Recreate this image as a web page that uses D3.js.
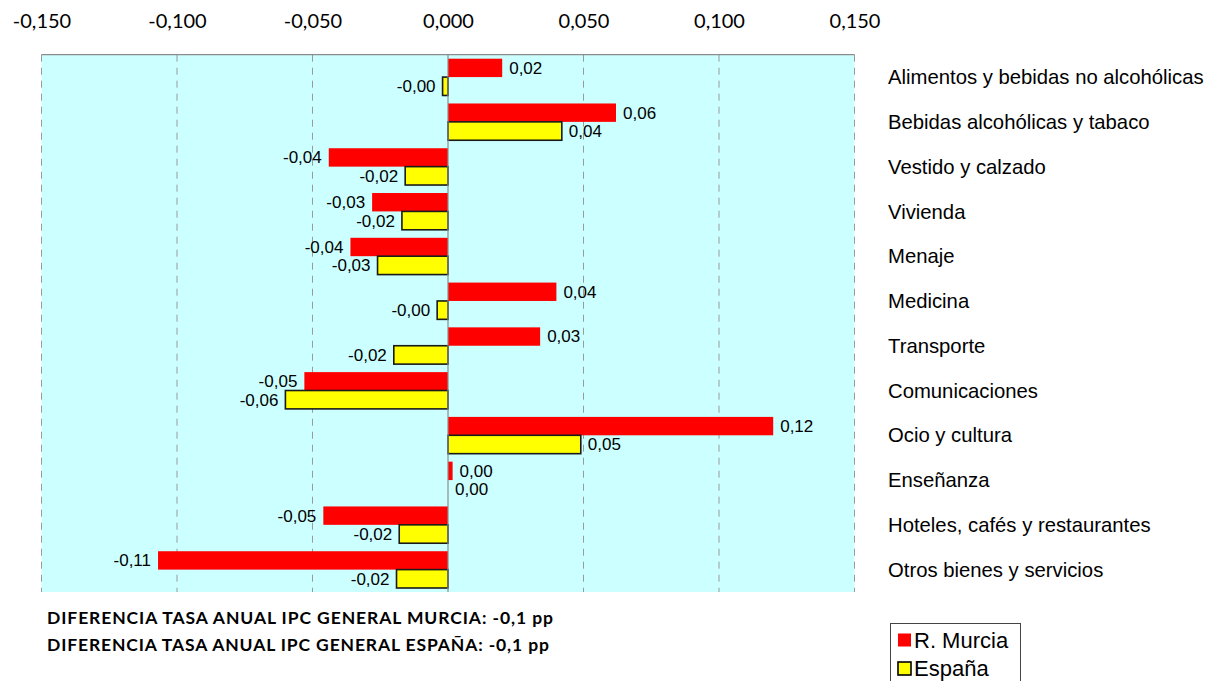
<!DOCTYPE html>
<html>
<head>
<meta charset="utf-8">
<script src="https://cdn.jsdelivr.net/npm/d3@7"></script>
<style>
  html, body { margin: 0; padding: 0; background: #fff; }
  svg { display: block; }
</style>
</head>
<body>
<svg id="chart" width="1215" height="681"></svg>
<script>
const categories = [
  "Alimentos y bebidas no alcohólicas",
  "Bebidas alcohólicas y tabaco",
  "Vestido y calzado",
  "Vivienda",
  "Menaje",
  "Medicina",
  "Transporte",
  "Comunicaciones",
  "Ocio y cultura",
  "Enseñanza",
  "Hoteles, cafés y restaurantes",
  "Otros bienes y servicios"
];
const murcia = [0.020, 0.062, -0.044, -0.028, -0.036, 0.040, 0.034, -0.053, 0.120, 0.0017, -0.046, -0.107];
const espana = [-0.002, 0.042, -0.0158, -0.017, -0.026, -0.004, -0.020, -0.060, 0.049, 0.000, -0.018, -0.019];
const tickValues = [-0.15, -0.10, -0.05, 0, 0.05, 0.10, 0.15];
const seriesNames = ["R. Murcia", "España"];
const notes = [
  "DIFERENCIA TASA ANUAL IPC GENERAL MURCIA: -0,1 pp",
  "DIFERENCIA TASA ANUAL IPC GENERAL ESPAÑA: -0,1 pp"
];

(function () {
const locale = d3.formatLocale({decimal: ",", thousands: ".", grouping: [3], currency: ["", "€"], minus: "-"});
const fmtTick = locale.format(".3f");
const f2 = locale.format(".2f");
const fmtLabel = v => (v < 0 ? "-" : "") + f2(Math.abs(v));

const svg = d3.select("#chart");
const pLeft = 41.5, pRight = 854.5, pTop = 54.7, pBottom = 592;
const x = d3.scaleLinear().domain([-0.15, 0.15]).range([pLeft, pRight]);
const y = d3.scaleBand().domain(categories).range([pTop, pBottom]);
const inner = d3.scaleBand().domain([0, 1]).range([4, y.bandwidth() - 4]);

const colors = ["#FF0000", "#FFFF00"];

svg.append("rect").attr("x", pLeft).attr("y", pTop).attr("width", pRight - pLeft).attr("height", pBottom - pTop).attr("fill", "#CCFFFF");

svg.append("g").selectAll("line").data(tickValues.filter(d => d !== 0)).join("line")
  .attr("x1", d => x(d)).attr("x2", d => x(d)).attr("y1", pTop).attr("y2", pBottom)
  .attr("stroke", "#9a9a9a").attr("stroke-width", 1).attr("stroke-dasharray", "7,6");

svg.append("line").attr("x1", pLeft).attr("x2", pRight).attr("y1", pTop).attr("y2", pTop)
  .attr("stroke", "#8c8c8c").attr("stroke-width", 1.2);

const axis = svg.append("g").attr("transform", `translate(0,${pTop})`)
  .call(d3.axisTop(x).tickValues(tickValues).tickFormat(fmtTick).tickSize(0).tickPadding(27));
axis.select(".domain").remove();
axis.selectAll("text").attr("font-family", "Lato, 'Open Sans', sans-serif").attr("font-size", 20).attr("fill", "#000");

const data = [];
categories.forEach((c, i) => {
  data.push({cat: c, s: 0, v: murcia[i]});
  data.push({cat: c, s: 1, v: espana[i]});
});

svg.append("g").selectAll("rect").data(data).join("rect")
  .attr("x", d => Math.min(x(0), x(d.v)))
  .attr("y", d => y(d.cat) + inner(d.s))
  .attr("width", d => Math.abs(x(d.v) - x(0)))
  .attr("height", inner.bandwidth())
  .attr("fill", d => colors[d.s])
  .attr("stroke", d => d.s === 1 ? "#1a1a1a" : "none")
  .attr("stroke-width", 1.6);

svg.append("line").attr("x1", x(0)).attr("x2", x(0)).attr("y1", pTop).attr("y2", pBottom)
  .attr("stroke", "#8c8c8c").attr("stroke-width", 1.2);

svg.append("g").selectAll("text").data(data).join("text")
  .attr("x", d => d.v >= 0 ? x(d.v) + 7 : x(d.v) - 7)
  .attr("y", d => y(d.cat) + inner(d.s) + inner.bandwidth() / 2)
  .attr("dy", "0.35em")
  .attr("text-anchor", d => d.v >= 0 ? "start" : "end")
  .attr("font-family", "'Liberation Sans', Arial, sans-serif")
  .attr("font-size", 17)
  .attr("fill", "#000")
  .text(d => fmtLabel(d.v));

svg.append("g").selectAll("text").data(categories).join("text")
  .attr("x", 888)
  .attr("y", d => y(d) + y.bandwidth() / 2)
  .attr("dy", "0.35em")
  .attr("font-family", "'Liberation Sans', Arial, sans-serif")
  .attr("font-size", 20.3)
  .attr("fill", "#000")
  .text(d => d);

svg.append("g").selectAll("text").data(notes).join("text")
  .attr("x", 47)
  .attr("y", (d, i) => 624 + i * 27)
  .attr("font-family", "Lato, sans-serif")
  .attr("font-weight", "bold")
  .attr("font-size", 17.5)
  .attr("textLength", (d, i) => i === 0 ? 506 : 502)
  .attr("lengthAdjust", "spacing")
  .attr("fill", "#000")
  .text(d => d);

const lg = svg.append("g");
lg.append("rect").attr("x", 890.5).attr("y", 623.5).attr("width", 130).attr("height", 70)
  .attr("fill", "#fff").attr("stroke", "#444").attr("stroke-width", 1);
seriesNames.forEach((n, i) => {
  const cy = 640 + i * 28.5;
  lg.append("rect").attr("x", 898).attr("y", cy - 6.5).attr("width", 13).attr("height", 13)
    .attr("fill", colors[i]).attr("stroke", i === 1 ? "#000" : "none").attr("stroke-width", 1.6);
  lg.append("text").attr("x", 914).attr("y", cy).attr("dy", "0.36em")
    .attr("font-family", "'Liberation Sans', Arial, sans-serif").attr("font-size", 22)
    .attr("fill", "#000").text(n);
});
})();
</script>
</body>
</html>
